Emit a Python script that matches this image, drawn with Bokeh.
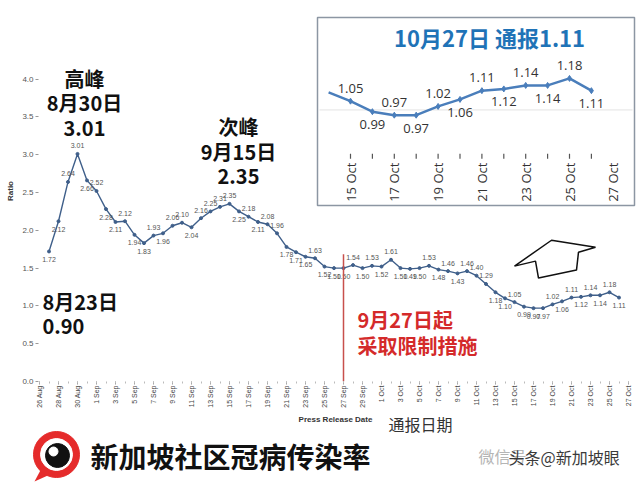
import math
import numpy as np
import pandas as pd
from bokeh.plotting import figure
from bokeh.layouts import column
from bokeh.models import Range1d, FixedTicker, ColumnDataSource, NumeralTickFormatter
from bokeh.core.properties import value
from bokeh.embed import file_html
from bokeh.resources import INLINE

# ---------------- data ----------------
axis_origin = "2021-08-26"
first_date = "2021-08-27"
ratio = [1.72, 2.12, 2.64, 3.01, 2.66,
         2.52, 2.28, 2.11, 2.12, 1.94, 1.83, 1.93, 1.96, 2.06, 2.10,
         2.04, 2.16, 2.25, 2.31, 2.35, 2.25, 2.18, 2.11, 2.08, 1.96,
         1.78, 1.71, 1.65, 1.63, 1.52, 1.50, 1.50, 1.54, 1.50, 1.53,
         1.52, 1.61, 1.50, 1.49, 1.50, 1.53, 1.48, 1.46, 1.43, 1.46,
         1.40, 1.29, 1.18, 1.10, 1.05, 0.99, 0.97, 0.97, 1.02, 1.06,
         1.11, 1.12, 1.14, 1.14, 1.18, 1.11]
measure_date = "2021-09-27"
main_tick_labels = ["26 Aug", "28 Aug", "30 Aug", "1 Sep", "3 Sep", "5 Sep", "7 Sep", "9 Sep",
                    "11 Sep", "13 Sep", "15 Sep", "17 Sep", "19 Sep", "21 Sep", "23 Sep", "25 Sep",
                    "27 Sep", "29 Sep", "1 Oct", "3 Oct", "5 Oct", "7 Oct", "9 Oct", "11 Oct",
                    "13 Oct", "15 Oct", "17 Oct", "19 Oct", "21 Oct", "23 Oct", "25 Oct", "27 Oct"]
y_ticks = [0.0, 0.5, 1.0, 1.5, 2.0, 2.5, 3.0, 3.5, 4.0]
inset_line_start = "2021-10-14"
inset_point_start = "2021-10-15"
inset_tick_labels = ["15 Oct", "17 Oct", "19 Oct", "21 Oct", "23 Oct", "25 Oct", "27 Oct"]
inset_grid_value = 1.0

# ---------------- derived ----------------
origin = pd.Timestamp(axis_origin)
days = pd.date_range(first_date, periods=len(ratio), freq="D")
xi = np.array((days - origin).days)
r = np.array(ratio)
prev = np.r_[r[0], r[:-1]]
nxt = np.r_[r[1:], r[-1]]
above = r >= (prev + nxt) / 2 - 1e-9
main_offsets = np.where(above, -8, 8)

main_ticks = list(range(0, 2 * len(main_tick_labels), 2))
measure_x = (pd.Timestamp(measure_date) - origin).days

# ---------------- layout constants (page px) ----------------
W = 640
H_MAIN, H_FOOT = 410, 81
FL, FR, FT, FB = 38, 640, 0, 383
PXD, PYU, X0 = 9.5, 76.0, 39
x_start = (FL - X0) / PXD
x_end = x_start + (FR - FL) / PXD
y_end = (FB - FT) / PYU


def dx(px):
    return x_start + (px - FL) / PXD


def dy(py):
    return (FB - py) / PYU


FONT = value("Noto Sans CJK SC")
SANS = value("Liberation Sans")

p = figure(width=W, height=H_MAIN, x_range=Range1d(x_start, x_end), y_range=Range1d(0, y_end),
           output_backend="svg", toolbar_location=None,
           min_border_left=FL, min_border_right=W - FR, min_border_top=FT,
           min_border_bottom=H_MAIN - FB)
p.frame_align = False
p.outline_line_color = None
p.grid.visible = False
p.background_fill_color = "white"
p.border_fill_color = "white"

# axes
p.xaxis.ticker = FixedTicker(ticks=main_ticks, minor_ticks=list(range(0, main_ticks[-1] + 1)))
p.xaxis.major_label_overrides = {t: lab for t, lab in zip(main_ticks, main_tick_labels)}
p.xaxis.major_label_orientation = math.pi / 2
p.xaxis.major_label_text_font_size = "7px"
p.xaxis.major_label_text_font = "Liberation Sans"
p.xaxis.major_label_text_color = "#444444"
p.xaxis.major_label_standoff = 1
p.xaxis.axis_line_color = None
p.xaxis.major_tick_line_color = "#999999"
p.xaxis.major_tick_in = 0
p.xaxis.major_tick_out = 3
p.xaxis.minor_tick_line_color = "#bbbbbb"
p.xaxis.minor_tick_in = 0
p.xaxis.minor_tick_out = 2

p.yaxis.ticker = FixedTicker(ticks=y_ticks)
p.yaxis.formatter = NumeralTickFormatter(format="0.0")
p.yaxis.axis_line_color = None
p.yaxis.major_tick_line_color = "#999999"
p.yaxis.major_tick_in = 0
p.yaxis.major_tick_out = 3
p.yaxis.minor_tick_line_color = None
p.yaxis.major_label_text_font = "Liberation Sans"
p.yaxis.major_label_text_font_size = "8px"
p.yaxis.major_label_text_color = "#555555"
p.yaxis.major_label_standoff = 2
p.yaxis.axis_label = "Ratio"
p.yaxis.axis_label_text_font = "Liberation Sans"
p.yaxis.axis_label_text_font_size = "8px"
p.yaxis.axis_label_text_font_style = "bold"
p.yaxis.axis_label_text_color = "#333333"
p.yaxis.axis_label_standoff = 4

# main series
src = ColumnDataSource(dict(x=xi, y=r, lab=[f"{v:.2f}" for v in r], off=main_offsets))
p.line("x", "y", source=src, line_color="#3f5f8a", line_width=1.4)
p.scatter("x", "y", source=src, size=3, color="#3f5f8a")
p.text("x", "y", text="lab", source=src, y_offset="off", text_align="center", text_baseline="middle",
       text_font=SANS, text_font_size="7px", text_color="#555555")

# measure line
p.segment(x0=[measure_x], x1=[measure_x], y0=[0], y1=[dy(255)], line_color="#c8504d", line_width=1.5)


# big annotations
def big(px, py, txt, color="#111111", align="center", size="20px"):
    p.text(x=[dx(px)], y=[dy(py)], text=[txt], text_align=align, text_baseline="middle",
           text_font=FONT, text_font_style="bold", text_font_size=size, text_color=color)


big(84, 78, "高峰")
big(84, 103, "8月30日")
big(84, 129, "3.01")
big(238, 127, "次峰")
big(238, 152, "9月15日")
big(238, 177, "2.35")
big(42, 303, "8月23日", align="left")
big(42, 328, "0.90", align="left")
big(357, 321, "9月27日起", color="#d42a2a", align="left")
big(357, 347, "采取限制措施", color="#d42a2a", align="left")

# arrow
arrow_px = [514, 551, 595, 578, 576, 538, 535]
arrow_py = [267, 241, 248, 253, 271, 279, 262]
p.patch([dx(a) for a in arrow_px], [dy(b) for b in arrow_py], fill_color="white",
        line_color="#111111", line_width=1.5)

# ---------------- inset ----------------
d15 = (pd.Timestamp(inset_point_start) - origin).days
IX15, IPXD, IY1, IPYU = 350, 21.9, 110.0, 176.0
ix_start = d15 - (IX15 - FL) / IPXD
ix_end = ix_start + (FR - FL) / IPXD
iy_start = inset_grid_value - (FB - IY1) / IPYU
iy_end = inset_grid_value + (IY1 - FT) / IPYU
p.extra_x_ranges = {"ix": Range1d(ix_start, ix_end)}
p.extra_y_ranges = {"iy": Range1d(iy_start, iy_end)}

p.quad(left=[dx(317)], right=[dx(634)], top=[dy(17)], bottom=[dy(206)],
       fill_color="white", line_color="#8c96a3", line_width=1.5)
p.segment(x0=[dx(319)], x1=[dx(632)], y0=[inset_grid_value], y1=[inset_grid_value],
          y_range_name="iy", line_color="#e3e3e3", line_width=1)

mline = days >= pd.Timestamp(inset_line_start)
mpt = days >= pd.Timestamp(inset_point_start)
p.line(xi[mline], r[mline], x_range_name="ix", y_range_name="iy", line_color="#4a7ebb", line_width=2.5)
p.scatter(xi[mpt], r[mpt], x_range_name="ix", y_range_name="iy", marker="diamond", size=6,
          color="#4a7ebb")
n_in = int(mpt.sum())
inset_off = [-13 if k % 2 == 0 else 13 for k in range(n_in)]
p.text(xi[mpt], r[mpt], text=[f"{v:.2f}" for v in r[mpt]], x_range_name="ix", y_range_name="iy",
       y_offset=inset_off, text_align="center", text_baseline="middle",
       text_font=value("Open Sans"), text_font_size="13px", text_color="#333333")

in_ticks = xi[mpt]
p.segment(x0=in_ticks, x1=in_ticks, y0=[dy(154)] * len(in_ticks), y1=[dy(159)] * len(in_ticks),
          x_range_name="ix", line_color="#555555", line_width=1.2)
in_lab_x = [d15 + 2 * k for k in range(len(inset_tick_labels))]
p.text(in_lab_x, [dy(163)] * len(in_lab_x), text=inset_tick_labels, x_range_name="ix",
       angle=math.pi / 2, text_align="right", text_baseline="middle",
       text_font=value("Open Sans"), text_font_size="13px", text_color="#333333")

p.text(x=[dx(489)], y=[dy(37)], text=[f"10月27日 通报{r[-1]:.2f}"], text_align="center",
       text_baseline="middle", text_font=FONT, text_font_style="bold", text_font_size="22px",
       text_color="#1f73b7")

# ---------------- footer ----------------
f = figure(width=W, height=H_FOOT, x_range=Range1d(0, W), y_range=Range1d(H_MAIN + H_FOOT, H_MAIN),
           output_backend="svg", toolbar_location=None, min_border=0,
           min_border_left=0, min_border_right=0, min_border_top=0, min_border_bottom=0,
           x_axis_location=None, y_axis_location=None)
f.frame_align = False
f.grid.visible = False
f.outline_line_color = None
f.text(x=[(FL + FR - 8) / 2], y=[419], text=["Press Release Date"], text_align="center",
       text_baseline="middle", text_font=SANS, text_font_style="bold", text_font_size="8px",
       text_color="#333333")
f.text(x=[420], y=[423], text=["通报日期"], text_align="center", text_baseline="middle",
       text_font=FONT, text_font_size="16px", text_color="#333333")
f.patch([42, 34, 54], [466, 481, 472], fill_color="#e52b2b", line_color=None)
f.scatter([56], [454], size=46, color="#e52b2b")
f.scatter([56], [454], size=32, color="white")
f.scatter([57], [455], size=24, color="#111111")
f.scatter([53], [451], size=9, color="white")
f.text(x=[90], y=[455], text=["新加坡社区冠病传染率"], text_align="left", text_baseline="middle",
       text_font=FONT, text_font_style="bold", text_font_size="28px", text_color="#111111")
f.text(x=[478], y=[455], text=["微信号"], text_align="left", text_baseline="middle",
       text_font=FONT, text_font_size="16px", text_color="#b5b5b5")
f.text(x=[508], y=[456], text=["头条@新加坡眼"], text_align="left", text_baseline="middle",
       text_font=FONT, text_font_size="16px", text_color="#3a3a3a")

layout = column(p, f, spacing=0)
open("out.html", "w").write(file_html(layout, INLINE, "chart"))
